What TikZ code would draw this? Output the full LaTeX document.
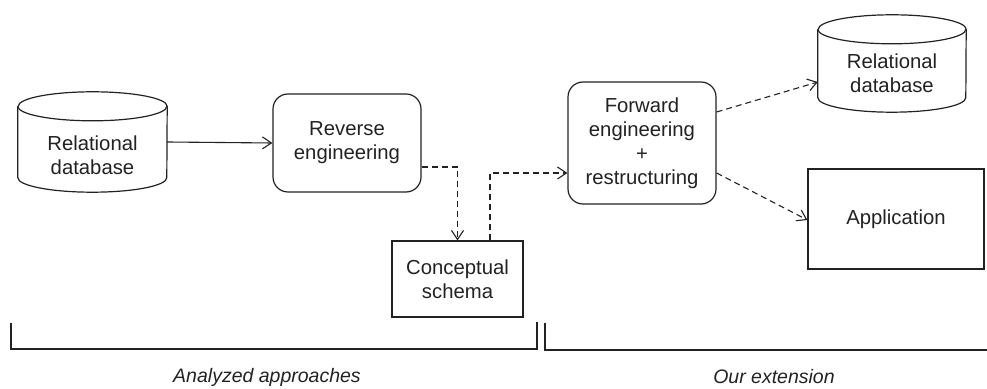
\documentclass[tikz,border=0pt]{standalone}
\usepackage{fontspec}
\setmainfont{Liberation Sans}
\usetikzlibrary{arrows.meta}
\definecolor{ink}{HTML}{222222}
\tikzset{
  every node/.style={font=\fontsize{20.3}{24}\selectfont, text=ink},
  frame/.style={draw=ink, line width=1.2pt, inner sep=0pt, align=center},
  roundbox/.style={frame, rounded corners=15pt},
  plainbox/.style={frame},
  cylframe/.style={inner sep=0pt},
  cylline/.style={draw=ink, line width=1.2pt},
  label/.style={inner sep=0pt, align=center},
  solidarrow/.style={draw=ink, line width=1.1pt, -{Straight Barb[length=9pt,width=12pt]}},
  dasharrow/.style={solidarrow, dash pattern=on 6pt off 4pt},
  bracket/.style={draw=ink, line width=1.2pt},
  caption/.style={font=\fontsize{19.5}{24}\selectfont\itshape, inner sep=0pt}
}
\begin{document}
\begin{tikzpicture}[x=1pt,y=1pt]
\useasboundingbox (0,0) rectangle (987,388);
% left cylinder
\node[cylframe, minimum width=149pt, minimum height=100pt] (ldb) at (92.5,246) {};
\draw[cylline] ([yshift=-14.5pt]ldb.north west) -- ([yshift=14.5pt]ldb.south west)
  arc[start angle=180, end angle=360, x radius=74.5pt, y radius=14.5pt]
  -- ([yshift=-14.5pt]ldb.north east)
  arc[start angle=0, end angle=180, x radius=74.5pt, y radius=14.5pt];
\draw[cylline] ([yshift=-14.5pt]ldb.north west)
  arc[start angle=180, end angle=360, x radius=74.5pt, y radius=14.5pt];
\node[label] (ldbt) at (92.5,233) {Relational\\database};
% reverse engineering
\node[roundbox, minimum width=148pt, minimum height=98pt] (re) at (347,245) {Reverse\\engineering};
% conceptual schema
\node[plainbox, minimum width=131pt, minimum height=76pt] (cs) at (457.5,109) {Conceptual\\schema};
% forward engineering
\node[roundbox, minimum width=148pt, minimum height=122pt] (fe) at (642,245) {Forward\\engineering\\+\\restructuring};
% right cylinder
\node[cylframe, minimum width=148pt, minimum height=97pt] (rdb) at (892,324.5) {};
\draw[cylline] ([yshift=-14.5pt]rdb.north west) -- ([yshift=14.5pt]rdb.south west)
  arc[start angle=180, end angle=360, x radius=74pt, y radius=14.5pt]
  -- ([yshift=-14.5pt]rdb.north east)
  arc[start angle=0, end angle=180, x radius=74pt, y radius=14.5pt];
\draw[cylline] ([yshift=-14.5pt]rdb.north west)
  arc[start angle=180, end angle=360, x radius=74pt, y radius=14.5pt];
\node[label] (rdbt) at (892,314.5) {Relational\\database};
% application
\node[plainbox, minimum width=176pt, minimum height=100pt] (app) at (896,169) {Application};
% connectors
\draw[solidarrow] (ldb.east) -- (re.west);
\draw[dasharrow] ([yshift=-24pt]re.east) -| (cs.north);
\draw[dasharrow] ([xshift=32.5pt]cs.north) |- ([yshift=-30pt]fe.west);
\draw[dasharrow] ([yshift=31pt]fe.east) -- ([yshift=-18.5pt]rdb.west);
\draw[dasharrow] ([yshift=-30pt]fe.east) -- ([yshift=-1pt]app.west);
% brackets
\draw[bracket] (11,65) -- (11,39) -- (537,39) -- (537,66);
\draw[bracket] (545,65) -- (545,38) -- (987,38);
\node[caption] (capl) at (267,11) {Analyzed approaches};
\node[caption] (capr) at (774,11) {Our extension};
\end{tikzpicture}
\end{document}
